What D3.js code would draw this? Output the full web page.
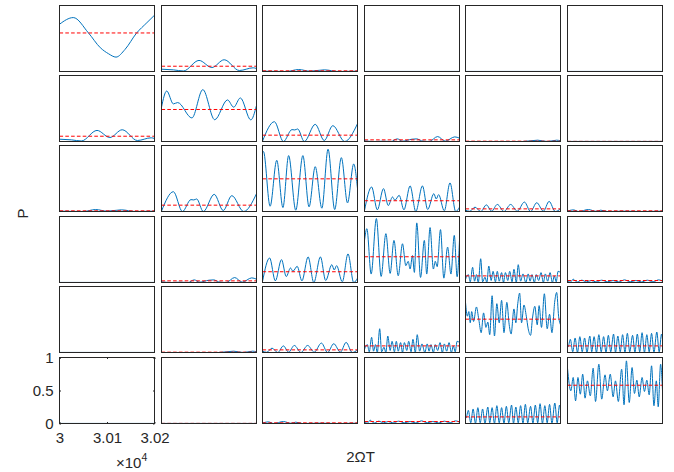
<!DOCTYPE html>
<html>
<head>
<meta charset="utf-8">
<script src="https://cdn.jsdelivr.net/npm/d3@7"></script>
<style>
  body { margin: 0; background: #fff; }
  svg { display: block; }
  text { font-family: "Liberation Sans", Arial, sans-serif; fill: #262626; }
</style>
</head>
<body>
<svg width="674" height="472"></svg>
<script>

// time axis and tick values
const tRange = [30000, 30200];
const xTicks = [30000, 30100, 30200];
const yTicks = [0, 0.5, 1];

// each panel: [2ΩT, P] points (matrix is symmetric)
const zero = [[30000, 0.001], [30200, 0.001]];

const p11 = [[30000, 0.716], [30029, 0.817], [30061, 0.584], [30086, 0.36], [30103, 0.27],
  [30119, 0.218], [30138, 0.335], [30162, 0.58], [30184, 0.74], [30200, 0.853]];

const p12 = [[30000, 0.035], [30025, 0.025], [30046, 0.008], [30079, 0.168], [30106, 0.06],
  [30132, 0.178], [30164, 0.015], [30193, 0.056], [30200, 0.045]];

const p13 = [[30000, 0.005], [30050, 0.0], [30076, 0.03], [30100, 0.005], [30130, 0.025],
  [30160, 0.0], [30200, 0.005]];

const p22 = [[30000, 0.52], [30011, 0.765], [30025, 0.57], [30034, 0.59], [30064, 0.357],
  [30087, 0.786], [30112, 0.33], [30139, 0.63], [30152, 0.52], [30166, 0.66], [30188, 0.327],
  [30200, 0.546]];

const p23 = [[30000, 0.005], [30025, 0.30], [30044, 0.0], [30062, 0.18], [30068, 0.175],
  [30074, 0.19], [30088, 0.0], [30111, 0.26], [30130, 0.015], [30148, 0.24], [30173, 0.0],
  [30200, 0.27]];

const p24 = [[30000, 0.01], [30020, 0.0], [30040, 0.005], [30056, 0.0], [30069, 0.04],
  [30080, 0.005], [30100, 0.035], [30110, 0.04], [30120, 0.01], [30136, 0.0], [30154, 0.075],
  [30170, 0.005], [30190, 0.07], [30200, 0.05]];

const p25 = [[30000, 0.0], [30120, 0.0], [30152, 0.02], [30172, 0.0], [30192, 0.02], [30200, 0.01]];

const p33 = [[30000, 0.89], [30002, 0.908], [30016, 0.08], [30030, 0.776], [30043, 0.06],
  [30055, 0.847], [30070, 0.02], [30085, 0.847], [30098, 0.07], [30111, 0.679], [30125, 0.05],
  [30138, 0.944], [30152, 0.03], [30166, 0.816], [30179, 0.13], [30192, 0.72], [30200, 0.35]];

const p34 = [[30000, 0.015], [30015, 0.372], [30027, 0.025], [30040, 0.347], [30050, 0.09],
  [30059, 0.22], [30064, 0.17], [30073, 0.245], [30083, 0.025], [30096, 0.388], [30108, 0.0],
  [30122, 0.388], [30133, 0.03], [30146, 0.27], [30151, 0.19], [30156, 0.255], [30168, 0.01],
  [30180, 0.434], [30192, 0.0], [30200, 0.066]];

const p35 = [[30000, 0.02], [30009, 0.003], [30020, 0.066], [30032, 0.0], [30044, 0.10],
  [30055, 0.005], [30067, 0.107], [30081, 0.0], [30095, 0.107], [30109, 0.005], [30124, 0.143],
  [30137, 0.0], [30150, 0.133], [30164, 0.005], [30176, 0.153], [30189, 0.0], [30200, 0.04]];

const p36 = [[30000, 0.005], [30012, 0.025], [30024, 0.0], [30044, 0.03], [30060, 0.003],
  [30070, 0.02], [30084, 0.0], [30120, 0.005], [30160, 0.0], [30200, 0.005]];

const p44 = [[30000, 0.638], [30005, 0.816], [30014, 0.128], [30025, 0.969], [30035, 0.092],
  [30045, 0.74], [30054, 0.138], [30062, 0.638], [30071, 0.102], [30080, 0.587], [30087, 0.255],
  [30092, 0.321], [30096, 0.204], [30101, 0.408], [30105, 0.153], [30110, 0.903], [30118, 0.077],
  [30126, 0.638], [30131, 0.128], [30138, 0.832], [30145, 0.204], [30149, 0.321], [30153, 0.24],
  [30160, 0.801], [30167, 0.066], [30175, 0.536], [30182, 0.128], [30189, 0.714], [30195, 0.087],
  [30200, 0.638]];

const p45 = [[30000, 0.05], [30006, 0.12], [30010, 0.01], [30015, 0.23], [30019, 0.02],
  [30023, 0.12], [30027, 0.0], [30032, 0.36], [30036, 0.01], [30041, 0.08], [30045, 0.0],
  [30049, 0.25], [30054, 0.03], [30058, 0.17], [30063, 0.01], [30067, 0.17], [30071, 0.02],
  [30076, 0.15], [30080, 0.0], [30084, 0.15], [30089, 0.03], [30093, 0.17], [30098, 0.01],
  [30102, 0.2], [30107, 0.0], [30111, 0.27], [30116, 0.02], [30121, 0.13], [30127, 0.0],
  [30132, 0.13], [30136, 0.02], [30140, 0.12], [30145, 0.0], [30149, 0.12], [30154, 0.03],
  [30159, 0.15], [30164, 0.0], [30168, 0.13], [30173, 0.02], [30178, 0.15], [30183, 0.0],
  [30187, 0.10], [30191, 0.01], [30195, 0.17], [30200, 0.15]];

const p46 = [[30000, 0.02], [30006, 0.005], [30012, 0.05], [30020, 0.005], [30030, 0.035],
  [30040, 0.01], [30050, 0.03], [30060, 0.008], [30072, 0.035], [30084, 0.01], [30096, 0.03],
  [30108, 0.008], [30120, 0.04], [30132, 0.01], [30144, 0.03], [30156, 0.008], [30168, 0.035],
  [30180, 0.01], [30192, 0.04], [30200, 0.02]];

const p55 = [[30000, 0.76], [30004, 0.55], [30007, 0.62], [30010, 0.45], [30013, 0.62],
  [30017, 0.47], [30023, 0.69], [30028, 0.50], [30033, 0.30], [30038, 0.60], [30043, 0.38],
  [30047, 0.46], [30051, 0.27], [30056, 0.86], [30061, 0.25], [30066, 0.74], [30071, 0.45],
  [30076, 0.79], [30081, 0.30], [30087, 0.76], [30092, 0.42], [30096, 0.28], [30102, 0.66],
  [30106, 0.45], [30110, 0.74], [30114, 0.90], [30118, 0.45], [30123, 0.72], [30128, 0.55],
  [30132, 0.36], [30137, 0.26], [30141, 0.52], [30146, 0.70], [30151, 0.42], [30155, 0.71],
  [30160, 0.38], [30166, 0.89], [30172, 0.36], [30177, 0.58], [30182, 0.30], [30188, 0.78],
  [30192, 0.91], [30196, 0.55], [30200, 0.42]];

const p56 = [[30000, 0.09], [30001, 0.08], [30006, 0.20], [30011, 0.01], [30016, 0.22],
  [30021, 0.0], [30026, 0.24], [30031, 0.01], [30036, 0.22], [30041, 0.0], [30047, 0.25],
  [30051, 0.01], [30056, 0.24], [30061, 0.0], [30066, 0.27], [30071, 0.01], [30076, 0.24],
  [30081, 0.0], [30086, 0.26], [30091, 0.01], [30097, 0.28], [30101, 0.0], [30106, 0.25],
  [30111, 0.01], [30116, 0.27], [30121, 0.0], [30126, 0.29], [30131, 0.01], [30137, 0.26],
  [30142, 0.0], [30147, 0.28], [30152, 0.01], [30157, 0.30], [30162, 0.0], [30167, 0.27],
  [30172, 0.01], [30177, 0.29], [30182, 0.0], [30188, 0.31], [30193, 0.01], [30198, 0.28],
  [30200, 0.2]];

const p66 = [[30000, 0.838], [30007, 0.495], [30012, 0.697], [30017, 0.343], [30022, 0.697],
  [30027, 0.444], [30032, 0.747], [30037, 0.384], [30042, 0.646], [30048, 0.419], [30054, 0.838],
  [30059, 0.333], [30066, 0.899], [30072, 0.369], [30079, 0.737], [30084, 0.495], [30090, 0.747],
  [30096, 0.404], [30101, 0.646], [30107, 0.333], [30114, 0.823], [30119, 0.283], [30124, 0.949],
  [30130, 0.318], [30136, 0.848], [30141, 0.455], [30146, 0.657], [30151, 0.404], [30157, 0.697],
  [30162, 0.485], [30167, 0.657], [30172, 0.434], [30177, 0.874], [30182, 0.268], [30187, 0.646],
  [30191, 0.253], [30196, 0.899], [30200, 0.495]];

// time-averaged P (red dashed lines), row by row
const means = [
  [0.584, 0.08, 0.01, 0.0, 0.0, 0.0],
  [0.08, 0.485, 0.096, 0.025, 0.005, 0.002],
  [0.01, 0.096, 0.495, 0.163, 0.04, 0.01],
  [0.0, 0.025, 0.163, 0.39, 0.1, 0.03],
  [0.0, 0.005, 0.04, 0.1, 0.505, 0.10],
  [0.0, 0.002, 0.01, 0.03, 0.10, 0.58]
];

const grid = [
  [p11, p12, p13, zero, zero, zero],
  [p12, p22, p23, p24, p25, zero],
  [p13, p23, p33, p34, p35, p36],
  [zero, p24, p34, p44, p45, p46],
  [zero, p25, p35, p45, p55, p56],
  [zero, zero, p36, p46, p56, p66]
];

const svg = d3.select("svg");

const cols = d3.scaleBand().domain(d3.range(6)).range([59.3, 661.7]).paddingInner(0.065);
const rows = d3.scaleBand().domain(d3.range(6)).range([4.7, 422.7]).paddingInner(0.0625);

const pw = Math.round(cols.bandwidth()),
      ph = Math.round(rows.bandwidth());

const x = d3.scaleLinear().domain(tRange).range([0, pw]);
const y = d3.scaleLinear().domain([0, 1]).range([ph, 0]);

const line = d3.line()
    .x(function(d) { return x(d[0]); })
    .y(function(d) { return y(d[1]); })
    .curve(d3.curveMonotoneX);

for (let r = 0; r < 6; r++) {
  for (let c = 0; c < 6; c++) {
    let g = svg.append("g")
        .attr("transform", "translate(" + (Math.round(cols(c)) + 0.5) + "," + (Math.round(rows(r)) + 0.5) + ")");

    g.append("rect")
        .attr("width", pw)
        .attr("height", ph)
        .attr("fill", "#fff");

    g.append("path")
        .attr("d", line(grid[r][c]))
        .attr("fill", "none")
        .attr("stroke", "#0072BD")
        .attr("stroke-width", 1);

    g.append("path")
        .attr("d", line([[tRange[0], means[r][c]], [tRange[1], means[r][c]]]))
        .attr("fill", "none")
        .attr("stroke", "#FF0000")
        .attr("stroke-width", 1)
        .attr("stroke-dasharray", "3.6,2.2");

    // bottom-left panel carries the only axes
    if (r === 5 && c === 0) {
      g.append("g")
          .attr("class", "ax")
          .call(d3.axisLeft(y).tickValues(yTicks).tickSize(-1.5).tickPadding(6)
            .tickFormat(function(d) { return d3.format("")(d); }));
      g.append("g")
          .attr("class", "ax")
          .attr("transform", "translate(" + pw + ",0)")
          .call(d3.axisRight(y).tickValues(yTicks).tickSize(-1.5).tickFormat(""));
      g.append("g")
          .attr("class", "ax")
          .attr("transform", "translate(0," + ph + ")")
          .call(d3.axisBottom(x).tickValues(xTicks).tickSize(-1.5).tickPadding(9)
            .tickFormat(function(d) { return +(d / 10000).toFixed(2); }));
      g.append("g")
          .attr("class", "ax")
          .call(d3.axisTop(x).tickValues(xTicks).tickSize(-1.5).tickFormat(""));
    }

    g.append("rect")
        .attr("width", pw)
        .attr("height", ph)
        .attr("fill", "none")
        .attr("stroke", "#262626")
        .attr("stroke-width", 1);
  }
}

svg.selectAll(".ax .domain").remove();
svg.selectAll(".ax line").attr("stroke", "#262626");
svg.selectAll(".ax text")
    .attr("font-size", 15)
    .attr("font-family", '"Liberation Sans", Arial, sans-serif')
    .attr("fill", "#262626");

// exponent label under the x ticks
let expo = svg.append("text")
    .attr("x", 116)
    .attr("y", 467.5)
    .attr("font-size", 15);
expo.append("tspan").text("×10");
expo.append("tspan").attr("font-size", 10.5).attr("dy", -6.5).text("4");

svg.append("text")
    .attr("x", 360.5)
    .attr("y", 461.7)
    .attr("text-anchor", "middle")
    .attr("font-size", 15)
    .text("2ΩT");

svg.append("text")
    .attr("transform", "translate(27.5,213.5) rotate(-90)")
    .attr("text-anchor", "middle")
    .attr("font-size", 15)
    .text("P");

</script>
</body>
</html>
